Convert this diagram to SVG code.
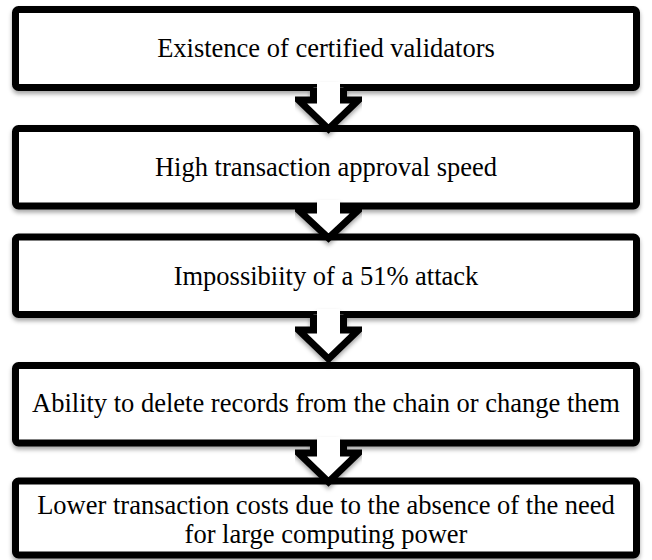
<svg xmlns="http://www.w3.org/2000/svg" width="652" height="560" viewBox="0 0 652 560">
<defs>
<filter id="sh" x="-5%" y="-10%" width="110%" height="130%">
<feDropShadow dx="0" dy="3" stdDeviation="2" flood-color="#000" flood-opacity="0.35"/>
</filter>
<style>
.box{fill:#fff;stroke:#000;stroke-width:7;}
.lbl{font-family:"Liberation Serif","Times New Roman",serif;font-size:26.5px;fill:#000;text-anchor:middle;}
.arr{fill:#fff;stroke:#000;stroke-width:7;stroke-linejoin:miter;}
.gap{fill:#fff;}
</style>
</defs>
<rect width="652" height="560" fill="#fff"/>
<g id="n1" filter="url(#sh)"><rect class="box" x="15.5" y="9.5" width="621" height="78" rx="3"/></g>
<g id="n2" filter="url(#sh)"><rect class="box" x="15.5" y="128.5" width="621" height="77.5" rx="3"/></g>
<g id="n3" filter="url(#sh)"><rect class="box" x="15.5" y="237" width="621" height="77.5" rx="3"/></g>
<g id="n4" filter="url(#sh)"><rect class="box" x="15.5" y="365.5" width="621" height="77.5" rx="3"/></g>
<g id="n5" filter="url(#sh)"><rect class="box" x="15.5" y="481" width="621" height="74" rx="3"/></g>
<g id="connectors" filter="url(#sh)">
<path class="arr" d="M313.5,87.5 L313.5,100 L298.5,100 L328.5,129 L358.5,100 L343.5,100 L343.5,87.5"/>
<rect class="gap" x="317" y="82" width="23" height="19"/>
<path class="arr" d="M313.5,206 L313.5,210 L298.5,210 L328.5,238 L358.5,210 L343.5,210 L343.5,206"/>
<rect class="gap" x="317" y="200" width="23" height="11"/>
<path class="arr" d="M313.5,314.5 L313.5,330 L298.5,330 L328.5,359 L358.5,330 L343.5,330 L343.5,314.5"/>
<rect class="gap" x="317" y="309" width="23" height="22"/>
<path class="arr" d="M313.5,443 L313.5,453 L298.5,453 L328.5,482 L358.5,453 L343.5,453 L343.5,443"/>
<rect class="gap" x="317" y="437" width="23" height="17"/>
</g>
<g id="labels">
<text class="lbl" x="326" y="57">Existence of certified validators</text>
<text class="lbl" x="326" y="176">High transaction approval speed</text>
<text class="lbl" x="326" y="285">Impossibiity of a 51% attack</text>
<text class="lbl" x="326" y="412">Ability to delete records from the chain or change them</text>
<text class="lbl" x="326" y="514">Lower transaction costs due to the absence of the need</text>
<text class="lbl" x="326" y="543">for large computing power</text>
</g>
</svg>
